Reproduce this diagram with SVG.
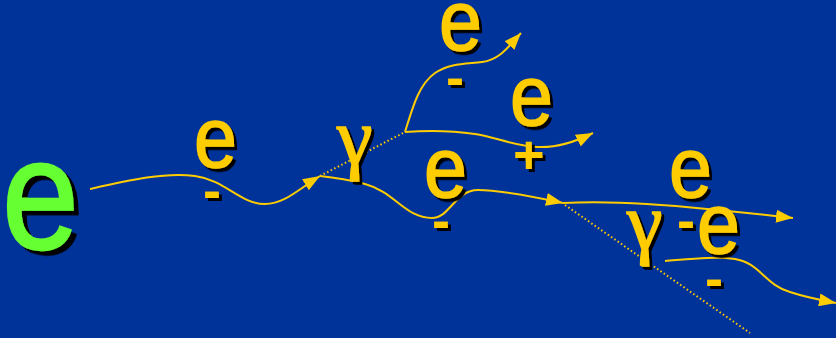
<svg xmlns="http://www.w3.org/2000/svg" width="836" height="338" viewBox="0 0 836 338">
<defs>
<style>
.t{font-family:"Liberation Sans",Arial,sans-serif;fill:#FFCC00;filter:url(#sh)}
.e{stroke:#FFCC00;stroke-width:1.4}
.s{font-weight:bold}
.g{font-family:"Liberation Serif","Times New Roman",serif;fill:#FFCC00;stroke:#FFCC00;stroke-width:1.5;filter:url(#sh)}
.p{fill:none;stroke:#FFCC00;stroke-width:2}
.d{fill:none;stroke:#FFCC00;stroke-width:2;stroke-dasharray:1.5 2.5}
</style>
<filter id="sh" x="-20%" y="-20%" width="150%" height="150%"><feDropShadow dx="3" dy="3" stdDeviation="0" flood-color="#000"/></filter>
<filter id="sh2" x="-20%" y="-20%" width="150%" height="150%"><feDropShadow dx="5" dy="4" stdDeviation="0" flood-color="#000"/></filter>
<marker id="a" viewBox="0 0 17 13" refX="17" refY="6.5" markerWidth="17" markerHeight="13" markerUnits="userSpaceOnUse" orient="auto"><path d="M0,0 L17,6.5 L0,13 Z" fill="#FFCC00"/></marker>
</defs>
<rect width="836" height="338" fill="#003399"/>
<g id="connectors">
<path class="p" marker-end="url(#a)" d="M90,189 C130,180 165,172 195,176 C225,180 240,204 265,204 C285,204 300,188 320,176"/>
<path class="p" marker-end="url(#a)" d="M320,176 C340,178 350,180 365,184 C395,192 405,218 432,218 C450,218 455,190 478,190 C500,190 530,196 563,203"/>
<path class="p" marker-end="url(#a)" d="M563,203 C600,201 650,203 707,209 C740,212 765,215 793,218"/>
<path class="d" d="M320,176 L405,132"/>
<path class="p" marker-end="url(#a)" d="M405,132 C412,110 418,85 435,73 C450,63 465,64 482,62 C500,60 510,45 521,33"/>
<path class="p" marker-end="url(#a)" d="M405,132 C430,130 455,131 475,134 C495,137 515,146 537,147 C555,148 575,142 593,133"/>
<path class="d" d="M565,205 L750,333"/>
<path class="p" marker-end="url(#a)" d="M665,261 C690,259 715,256 735,259 C760,263 765,285 790,292 C805,297 820,300 836,303"/>
</g>
<g id="e-incoming"><text transform="translate(2,248) scale(1,1.14)" font-family="Liberation Sans,Arial,sans-serif" font-size="138" fill="#66FF33" stroke="#66FF33" stroke-width="2" filter="url(#sh2)">e</text></g>
<g id="e-minus-1"><text class="t e" transform="translate(194,167) scale(1,1.1)" font-size="77">e</text><text class="t s" x="203" y="209" font-size="54">-</text></g>
<g id="gamma-1"><text class="g" x="337" y="164" font-size="80">γ</text></g>
<g id="e-minus-top"><text class="t e" transform="translate(439,50) scale(1,1.1)" font-size="77">e</text><text class="t s" x="446" y="96" font-size="54">-</text></g>
<g id="e-plus"><text class="t e" transform="translate(510,125) scale(1,1.1)" font-size="77">e</text><text class="t s" x="513" y="173" font-size="54">+</text></g>
<g id="e-minus-mid"><text class="t e" transform="translate(424,197) scale(1,1.1)" font-size="77">e</text><text class="t s" x="432" y="239" font-size="54">-</text></g>
<g id="e-minus-right"><text class="t e" transform="translate(669,197) scale(1,1.1)" font-size="77">e</text><text class="t s" x="677" y="239" font-size="54">-</text></g>
<g id="gamma-2"><text class="g" x="627" y="249" font-size="80">γ</text></g>
<g id="e-minus-pair"><text class="t e" transform="translate(697,253) scale(1,1.1)" font-size="77">e</text><text class="t s" x="705" y="297" font-size="54">-</text></g>
</svg>
